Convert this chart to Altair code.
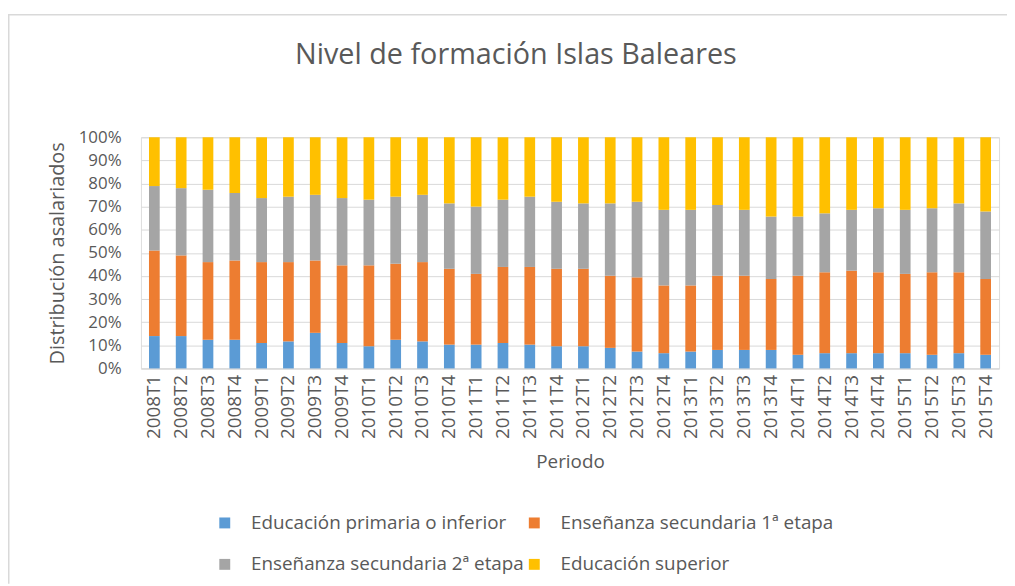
import altair as alt
import pandas as pd

periodos = [f"{a}T{t}" for a in range(2008, 2016) for t in range(1, 5)]

series = [
    "Educación primaria o inferior",
    "Enseñanza secundaria 1ª etapa",
    "Enseñanza secundaria 2ª etapa",
    "Educación superior",
]
colores = ["#5B9BD5", "#ED7D31", "#A5A5A5", "#FFC000"]

primaria = [14.0, 14.0, 12.4, 12.4, 11.0, 11.7, 15.4, 11.0,
            9.6, 12.4, 11.7, 10.3, 10.3, 11.0, 10.3, 9.6,
            9.6, 8.9, 7.3, 6.6, 7.3, 8.0, 8.0, 8.0,
            5.9, 6.6, 6.6, 6.6, 6.6, 5.9, 6.6, 5.9]
sec1 = [37.0, 34.9, 33.6, 34.3, 35.0, 34.3, 31.3, 33.6,
        35.0, 32.9, 34.3, 32.8, 30.6, 32.9, 33.6, 33.5,
        33.5, 31.2, 32.1, 29.3, 28.6, 32.1, 32.1, 30.7,
        34.2, 35.0, 35.7, 35.0, 34.3, 35.7, 35.0, 32.8]
sec2 = [27.9, 29.1, 31.3, 29.2, 27.7, 28.3, 28.4, 29.1,
        28.4, 29.0, 29.1, 28.3, 29.1, 29.1, 30.4, 29.0,
        28.3, 31.3, 32.7, 32.7, 32.7, 30.6, 28.5, 27.0,
        25.6, 25.5, 26.3, 27.7, 27.7, 27.7, 29.8, 29.2]
superior = [21.1, 22.0, 22.7, 24.1, 26.3, 25.7, 24.9, 26.3,
            27.0, 25.7, 24.9, 28.6, 30.0, 27.0, 25.7, 27.9,
            28.6, 28.6, 27.9, 31.4, 31.4, 29.3, 31.4, 34.3,
            34.3, 32.9, 31.4, 30.7, 31.4, 30.7, 28.6, 32.1]

titulo = "Nivel de formación Islas Baleares"

rows = []
for i, p in enumerate(periodos):
    for k, (s, vals) in enumerate(zip(series, [primaria, sec1, sec2, superior])):
        rows.append({"Periodo": p, "Nivel": s, "valor": vals[i], "orden": k})
df = pd.DataFrame(rows)

FONT = "Open Sans"
TXT = "#595959"
W, H = 865, 233
PL, PT, PR, PB = 134, 128, 8, 217

bars = alt.Chart(df).mark_bar().encode(
    x=alt.X("Periodo:N", sort=periodos,
            scale=alt.Scale(paddingInner=0.6, paddingOuter=0.3),
            axis=alt.Axis(title="Periodo", labelAngle=-90, labelAlign="right",
                          labelBaseline="middle", labelPadding=6, ticks=False,
                          domainColor="#D9D9D9", labelFontSize=19, titleFontSize=19,
                          titleFontWeight="normal", titlePadding=14,
                          labelColor=TXT, titleColor=TXT, labelFont=FONT, titleFont=FONT)),
    y=alt.Y("valor:Q", stack="normalize",
            scale=alt.Scale(domain=[0, 1]),
            axis=alt.Axis(title="Distribución asalariados", format=".0%",
                          values=[i / 10 for i in range(11)], ticks=False, domain=False,
                          gridColor="#D9D9D9", labelPadding=20, labelFontSize=17,
                          titleFontSize=20, titleFontWeight="normal", titlePadding=11,
                          labelColor=TXT, titleColor=TXT, labelFont=FONT, titleFont=FONT)),
    color=alt.Color("Nivel:N", scale=alt.Scale(domain=series, range=colores),
                    legend=alt.Legend(title=None, orient="none", legendX=75, legendY=379,
                                      direction="horizontal", columns=2,
                                      symbolType="square", symbolSize=121,
                                      symbolStrokeWidth=0, labelFontSize=19, labelFont=FONT,
                                      labelColor=TXT, labelLimit=400, labelOffset=17,
                                      columnPadding=0, rowPadding=22)),
    order=alt.Order("orden:Q", sort="ascending"),
)

frame = pd.DataFrame({"a": [0]})
left_line = alt.Chart(frame).mark_rule(color="#D9D9D9", strokeWidth=1.5).encode(
    x=alt.value(-PL + 0.75), y=alt.value(-PT + 4.5), y2=alt.value(H + PB))
top_line = alt.Chart(frame).mark_rule(color="#D9D9D9", strokeWidth=1.5).encode(
    y=alt.value(-PT + 4.5), x=alt.value(-PL), x2=alt.value(W + PR))

title_df = pd.DataFrame({"t": [titulo]})
title_mark = alt.Chart(title_df).mark_text(
    font=FONT, fontSize=29, color=TXT, align="center", baseline="alphabetic"
).encode(text="t:N", x=alt.value(378), y=alt.value(-74))

chart = alt.layer(bars, left_line, top_line, title_mark).properties(
    width=W, height=H,
    autosize=alt.AutoSizeParams(type="none"),
    padding={"left": PL, "top": PT, "right": PR, "bottom": PB},
).configure_view(stroke=None).configure(background="white")

chart.save("out.html", embed_options={"renderer": "svg", "actions": False})
